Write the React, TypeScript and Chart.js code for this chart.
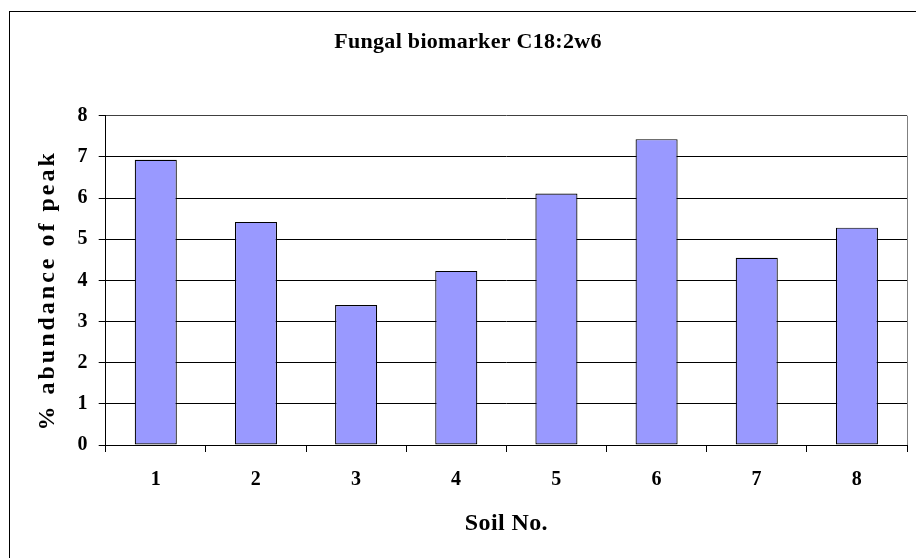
import React, { useEffect, useRef } from "react";
import { Chart, registerables } from "chart.js";

Chart.register(...registerables);

const categories = ["1", "2", "3", "4", "5", "6", "7", "8"];
const abundance = [6.93, 5.42, 3.4, 4.23, 6.11, 7.43, 4.55, 5.28];
const yTicks = [0, 1, 2, 3, 4, 5, 6, 7, 8];

const FONT = "'Liberation Serif', 'Times New Roman', serif";

function spaceTitle(scale: any, spacing: string, dy: number) {
  if (scale.__spaced) return;
  scale.__spaced = true;
  const orig = scale.drawTitle.bind(scale);
  scale.drawTitle = (...args: any[]) => {
    const ctx = scale.ctx;
    ctx.save();
    (ctx as any).letterSpacing = spacing;
    ctx.translate(0, dy);
    orig(...args);
    ctx.restore();
  };
}

const frame = {
  id: "frame",
  beforeDraw(chart: any) {
    const ctx = chart.ctx;
    ctx.fillStyle = "#fff";
    ctx.fillRect(0, 0, chart.width, chart.height);
    ctx.save();
    ctx.strokeStyle = "#000";
    ctx.lineWidth = 1;
    ctx.strokeRect(9.5, 11.5, 2000, 2000);
    ctx.restore();
    (ctx as any).letterSpacing = "0.3px";
  },
  beforeDatasetsDraw(chart: any) {
    const { ctx, chartArea } = chart;
    ctx.save();
    ctx.strokeStyle = "#808080";
    ctx.lineWidth = 1;
    ctx.beginPath();
    ctx.moveTo(Math.round(chartArea.right) + 0.5, chartArea.top);
    ctx.lineTo(Math.round(chartArea.right) + 0.5, chartArea.bottom);
    ctx.stroke();
    ctx.restore();
  },
  afterDraw(chart: any) {
    (chart.ctx as any).letterSpacing = "0px";
  },
};

export default function App() {
  const ref = useRef<HTMLCanvasElement | null>(null);
  useEffect(() => {
    if (!ref.current) return;
    const chart = new Chart(ref.current, {
      type: "bar",
      data: {
        labels: categories,
        datasets: [
          {
            data: abundance,
            backgroundColor: "#9999FF",
            borderColor: "#000",
            borderWidth: 1.2,
            borderSkipped: false,
            barPercentage: 0.42,
            categoryPercentage: 1,
          },
        ],
      },
      options: {
        animation: false,
        responsive: false,
        devicePixelRatio: 1,
        layout: { padding: { left: 29, right: 9, top: 0, bottom: 0 } },
        plugins: {
          legend: { display: false },
          tooltip: { enabled: false },
          title: {
            display: true,
            text: "Fungal biomarker C18:2w6",
            color: "#000",
            font: { family: FONT, size: 22, weight: "bold", lineHeight: 1.2 },
            padding: { top: 28.8, bottom: 60.5 },
          },
        },
        scales: {
          x: {
            grid: {
              offset: true,
              drawOnChartArea: false,
              drawTicks: true,
              tickLength: 7,
              color: "#000",
              lineWidth: 1,
            },
            border: { display: true, color: "#000", width: 1 },
            ticks: {
              color: "#000",
              padding: 16,
              font: { family: FONT, size: 20, weight: "bold" },
            },
            title: {
              display: true,
              text: "Soil No.",
              color: "#000",
              font: { family: FONT, size: 24, weight: "bold", lineHeight: 1.2 },
              padding: { top: 0, bottom: 19.6 },
            },
            afterFit(scale: any) {
              scale.height = 113;
              spaceTitle(scale, "0.4px", 0);
            },
          },
          y: {
            min: 0,
            max: 8,
            afterBuildTicks(scale: any) {
              scale.ticks = yTicks.map((v) => ({ value: v }));
            },
            grid: {
              color: (c: any) => (c.tick && c.tick.value === 8 ? "#404040" : "#000"),
              tickColor: "#000",
              tickLength: 7,
              lineWidth: 1,
            },
            border: { display: true, color: "#000", width: 1 },
            ticks: {
              color: "#000",
              padding: 11,
              font: { family: FONT, size: 20, weight: "bold" },
            },
            title: {
              display: true,
              text: "% abundance of peak",
              color: "#000",
              font: { family: FONT, size: 24, weight: "bold", lineHeight: 1.2 },
              padding: { top: 4.6, bottom: 0 },
            },
            afterFit(scale: any) {
              scale.width = 76.7;
              spaceTitle(scale, "3px", 10);
            },
          },
        },
      },
      plugins: [frame],
    });
    return () => chart.destroy();
  }, []);
  return (
    <div style={{ position: "fixed", left: 0, top: 0, width: 916, height: 558, background: "#fff" }}>
      <canvas ref={ref} width={916} height={558} style={{ width: 916, height: 558, display: "block" }} />
    </div>
  );
}
